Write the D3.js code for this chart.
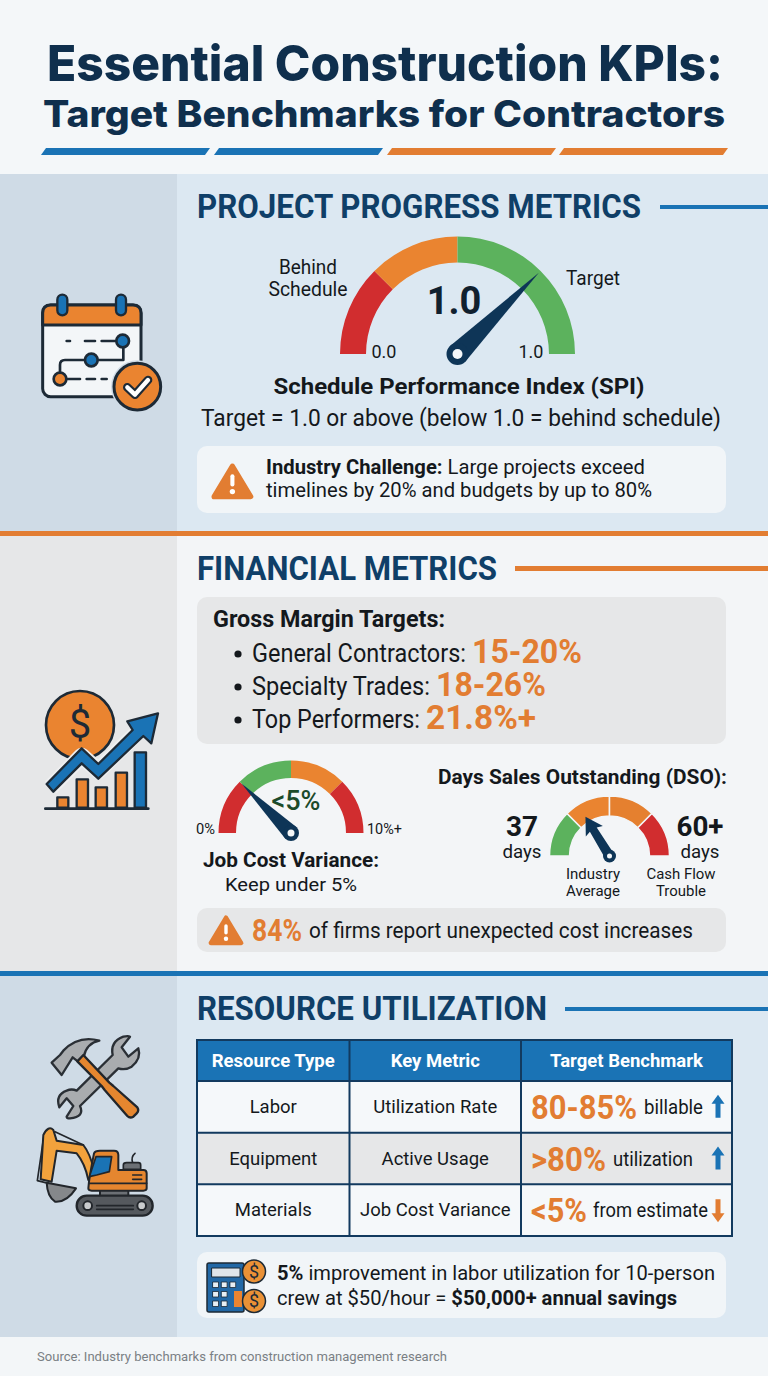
<!DOCTYPE html>
<html>
<head>
<meta charset="utf-8">
<script src="https://cdn.jsdelivr.net/npm/d3@7"></script>
<style>
  html, body { margin: 0; padding: 0; background: #f4f7f9; }
  svg { display: block; }
  text { font-family: Roboto, sans-serif; }
</style>
</head>
<body>
<div id="chart"></div>
<script>
// gauge data: arc stops are shares of the half circle
var spiStops = [0, 0.25, 0.5, 1];
var spiColors = ["#d12d2f", "#ea8430", "#5cb25d"];
var spiNeedle = 0.75;
var spiTicks = ["0.0", "1.0"];

var jcvStops = [0, 0.25, 0.5, 0.75, 1];
var jcvColors = ["#d12d2f", "#5cb25d", "#ea8430", "#d12d2f"];
var jcvNeedle = 0.25;
var jcvTicks = ["0%", "10%+"];

var dsoStops = [0, 0.25, 0.5, 0.75, 1];
var dsoColors = ["#5cb25d", "#ea8430", "#e5802f", "#d12d2f"];
var dsoNeedle = 0.325;

// gross margins
var marginLabels = ["General Contractors:", "Specialty Trades:", "Top Performers:"];
var marginValues = ["15-20%", "18-26%", "21.8%+"];

// table
var tableHeaders = ["Resource Type", "Key Metric", "Target Benchmark"];
var resourceTypes = ["Labor", "Equipment", "Materials"];
var keyMetrics = ["Utilization Rate", "Active Usage", "Job Cost Variance"];
var benchmarkValues = ["80-85%", ">80%", "<5%"];
var benchmarkNotes = ["billable", "utilization", "from estimate"];
var benchmarkDirs = ["up", "up", "down"];

var NAVY = "#0f2f4d", HEAD = "#0f3f68", BLUE = "#1a73b5", ORANGE = "#e27d32", INK = "#14181c", PANEL = "#f1f5f8";

var svg = d3.select("#chart").append("svg").attr("width", 768).attr("height", 1376);

function rect(x, y, w, h, fill, r) {
  return svg.append("rect").attr("x", x).attr("y", y).attr("width", w).attr("height", h)
    .attr("fill", fill).attr("rx", r || 0);
}

function txt(x, y, s, o) {
  o = o || {};
  var t = svg.append("text").attr("x", x).attr("y", y).text(s)
    .attr("font-size", o.size || 18)
    .attr("font-weight", o.weight || 400)
    .attr("fill", o.fill || INK)
    .attr("text-anchor", o.anchor || "start");
  if (o.family) t.style("font-family", o.family);
  if (o.len) t.attr("textLength", o.len).attr("lengthAdjust", "spacingAndGlyphs");
  return t;
}

// backgrounds
rect(0, 174, 768, 357, "#dce8f2");
rect(0, 174, 177, 357, "#cfdbe6");
rect(0, 531, 768, 440, "#f3f5f7");
rect(0, 531, 177, 440, "#e6e7e8");
rect(0, 531, 768, 5, ORANGE);
rect(0, 971, 768, 366, "#dce8f2");
rect(0, 971, 177, 366, "#cfdbe6");
rect(0, 971, 768, 5, BLUE);

// title
txt(385, 81, "Essential Construction KPIs:", { size: 49, weight: 800, fill: NAVY, anchor: "middle", family: "Inter", len: 676 });
txt(384, 127, "Target Benchmarks for Contractors", { size: 37, weight: 800, fill: NAVY, anchor: "middle", family: "Inter", len: 682 });

var stripe = d3.line();
[[41, BLUE], [214, BLUE], [387, ORANGE], [559, ORANGE]].forEach(function (d) {
  svg.append("path").attr("fill", d[1])
    .attr("d", stripe([[d[0] + 5, 148], [d[0] + 169, 148], [d[0] + 164, 155], [d[0], 155]]) + "Z");
});

// section headers
function sectionHead(label, y, textW, lineX, lineY, lineH, color) {
  txt(197, y, label, { size: 33, weight: 700, fill: HEAD, len: textW });
  rect(lineX, lineY, 768 - lineX, lineH, color);
}
sectionHead("PROJECT PROGRESS METRICS", 218, 444, 660, 205, 4, BLUE);
sectionHead("FINANCIAL METRICS", 580, 300, 515, 566, 5, ORANGE);
sectionHead("RESOURCE UTILIZATION", 1020, 350, 565, 1007, 4, BLUE);

// gauges go through one scale from share to angle
var angle = d3.scaleLinear().domain([0, 1]).range([-Math.PI / 2, Math.PI / 2]);

function drawArcs(cx, cy, r0, r1, stops, colors, gap) {
  var arc = d3.arc().innerRadius(r0).outerRadius(r1);
  var g = svg.append("g").attr("transform", "translate(" + cx + "," + cy + ")");
  g.selectAll("path").data(colors).join("path")
    .attr("fill", function (d) { return d; })
    .attr("stroke", gap ? "#f3f5f7" : "none")
    .attr("stroke-width", gap || 0)
    .attr("d", function (d, i) {
      return arc({ startAngle: angle(stops[i]), endAngle: angle(stops[i + 1]) });
    });
  return g;
}

function drawNeedle(g, share, len, hub, hole) {
  var a = angle(share) - Math.PI / 2; // svg angle from +x
  var px = Math.cos(a), py = Math.sin(a), nx = -py, ny = px;
  var p = [[px * len, py * len], [nx * hub, ny * hub], [-nx * hub, -ny * hub]];
  g.append("path").attr("fill", "#0e3557").attr("d", d3.line()(p) + "Z");
  g.append("circle").attr("r", hub).attr("fill", "#0e3557");
  g.append("circle").attr("r", hole).attr("fill", "#f4f7f9");
}

function drawArrowNeedle(g, share, len, hub, hole) {
  var a = angle(share) - Math.PI / 2;
  var px = Math.cos(a), py = Math.sin(a), nx = -py, ny = px;
  function at(along, side) { return [px * along + nx * side, py * along + ny * side]; }
  var p = [at(len, 0), at(len - 17, 10), at(len - 15, 4), at(0, 5), at(0, -5), at(len - 15, -4), at(len - 17, -10)];
  g.append("path").attr("fill", "#0e3557").attr("d", d3.line()(p) + "Z");
  g.append("circle").attr("r", hub).attr("fill", "#0e3557");
  g.append("circle").attr("r", hole).attr("fill", "#f4f7f9");
}

// SPI gauge
var spiG = drawArcs(457.5, 354, 91.5, 117.5, spiStops, spiColors);
drawNeedle(spiG, spiNeedle, 115, 11, 5);
txt(308, 274, "Behind", { size: 19.5, anchor: "middle", len: 58 });
txt(308, 296, "Schedule", { size: 19.5, anchor: "middle", len: 79 });
txt(593, 285, "Target", { size: 19.5, anchor: "middle", len: 54 });
txt(454, 314, "1.0", { size: 38, weight: 700, fill: "#10202f", anchor: "middle" });
txt(384, 358, spiTicks[0], { size: 18, anchor: "middle" });
txt(531, 358, spiTicks[1], { size: 18, anchor: "middle" });
txt(459, 394, "Schedule Performance Index (SPI)", { size: 22.5, weight: 700, anchor: "middle", len: 371 });
txt(461, 426, "Target = 1.0 or above (below 1.0 = behind schedule)", { size: 23, anchor: "middle", len: 520 });

function warning(x, y, s) {
  var g = svg.append("g").attr("transform", "translate(" + x + "," + y + ") scale(" + s + ")");
  g.append("path").attr("fill", ORANGE).attr("stroke", ORANGE).attr("stroke-width", 5).attr("stroke-linejoin", "round")
    .attr("d", "M20 3 L38 33 L2 33 Z");
  g.append("rect").attr("x", 18).attr("y", 11).attr("width", 4).attr("height", 12).attr("rx", 2).attr("fill", "#fff");
  g.append("circle").attr("cx", 20).attr("cy", 28).attr("r", 2.6).attr("fill", "#fff");
}

// first callout
rect(197, 446, 529, 67, PANEL, 10);
warning(212, 463, 1.02);
var c1 = txt(266, 474, "", { size: 19.5, len: 379 });
c1.append("tspan").attr("font-weight", 700).text("Industry Challenge:");
c1.append("tspan").text(" Large projects exceed");
txt(266, 497, "timelines by 20% and budgets by up to 80%", { size: 19.5, len: 386 });

// gross margin panel
rect(197, 597, 529, 147, "#e6e7e8", 10);
txt(213, 627, "Gross Margin Targets:", { size: 23, weight: 700, len: 232 });
var marginY = d3.scalePoint().domain(marginLabels).range([662, 728]);
var marginLabelW = { "General Contractors:": 214, "Specialty Trades:": 178, "Top Performers:": 168 };
marginLabels.forEach(function (d, i) {
  svg.append("circle").attr("cx", 238).attr("cy", marginY(d) - 8).attr("r", 3.6).attr("fill", INK);
  txt(252, marginY(d), d, { size: 25, len: marginLabelW[d] });
  txt(252 + marginLabelW[d] + 6, marginY(d) + 1, marginValues[i], { size: 34, weight: 700, fill: ORANGE, len: 110 });
});

// job cost variance gauge
var jcvG = drawArcs(291, 833, 55, 72.5, jcvStops, jcvColors);
drawNeedle(jcvG, jcvNeedle, 70, 8, 3.5);
txt(205.5, 834, jcvTicks[0], { size: 14, anchor: "middle", len: 19 });
txt(384.5, 834, jcvTicks[1], { size: 14, anchor: "middle", len: 35 });
txt(296, 810, "<5%", { size: 27, weight: 500, fill: "#1b4a2a", anchor: "middle" });
txt(291, 867, "Job Cost Variance:", { size: 21, weight: 700, anchor: "middle", len: 176 });
txt(291, 891, "Keep under 5%", { size: 19, anchor: "middle", len: 132 });

// DSO gauge
txt(582.5, 784, "Days Sales Outstanding (DSO):", { size: 21, weight: 700, anchor: "middle", len: 289 });
var dsoG = drawArcs(609.5, 856, 40, 60, dsoStops, dsoColors, 1.5);
drawArrowNeedle(dsoG, dsoNeedle, 46, 6.5, 2.5);
txt(522, 836, "37", { size: 28, weight: 700, anchor: "middle" });
txt(522, 858, "days", { size: 18, anchor: "middle", len: 39 });
txt(700, 836, "60+", { size: 28, weight: 700, anchor: "middle", len: 47 });
txt(700, 858, "days", { size: 18, anchor: "middle", len: 39 });
txt(593, 879, "Industry", { size: 15.5, anchor: "middle", len: 54 });
txt(593, 896, "Average", { size: 15.5, anchor: "middle", len: 54 });
txt(681, 879, "Cash Flow", { size: 15.5, anchor: "middle", len: 69 });
txt(681, 896, "Trouble", { size: 15.5, anchor: "middle", len: 50 });

// second callout
rect(197, 908, 529, 44, "#e6e7e8", 10);
warning(209, 915, 0.85);
txt(252, 941, "84%", { size: 31, weight: 700, fill: ORANGE, len: 50 });
txt(309, 938, "of firms report unexpected cost increases", { size: 21.5, len: 384 });

// table
var colEdges = [197, 349.5, 521, 732];
var rowBand = d3.scaleBand().domain(resourceTypes).range([1081, 1236]);
var rowFill = ["#f5f8fa", "#e6e7e8", "#f5f8fa"];
var valueW = [106, 75, 56], noteX = [644, 613, 593], noteW = [59, 80, 115];

rect(197, 1040, 535, 41, BLUE);
tableHeaders.forEach(function (d, i) {
  txt((colEdges[i] + colEdges[i + 1]) / 2, 1067, d, { size: 18.5, weight: 700, fill: "#fff", anchor: "middle" });
});

resourceTypes.forEach(function (d, i) {
  var y = rowBand(d), h = rowBand.bandwidth(), mid = y + h / 2;
  rect(197, y, 535, h, rowFill[i]);
  txt((colEdges[0] + colEdges[1]) / 2, mid + 6, d, { size: 18.5, anchor: "middle" });
  txt((colEdges[1] + colEdges[2]) / 2, mid + 6, keyMetrics[i], { size: 18.5, anchor: "middle" });

  txt(531, mid + 12, benchmarkValues[i], { size: 34, weight: 700, fill: ORANGE, len: valueW[i] });
  txt(noteX[i], mid + 7, benchmarkNotes[i], { size: 19.5, len: noteW[i] });

  // arrow
  var up = benchmarkDirs[i] === "up";
  var color = up ? BLUE : ORANGE;
  var ax = 718, t = up ? mid - 12 : mid + 12, s = up ? 1 : -1;
  svg.append("path").attr("fill", color)
    .attr("d", d3.line()([[ax, t], [ax + 6.5, t + 9 * s], [ax + 2.5, t + 9 * s], [ax + 2.5, t + 23 * s],
      [ax - 2.5, t + 23 * s], [ax - 2.5, t + 9 * s], [ax - 6.5, t + 9 * s]]) + "Z");
});

// table lines
var lines = svg.append("g").attr("stroke", "#123a5f").attr("stroke-width", 2).attr("fill", "none");
lines.append("rect").attr("x", 197).attr("y", 1040).attr("width", 535).attr("height", 196);
[1081, rowBand(resourceTypes[1]), rowBand(resourceTypes[2])].forEach(function (y) {
  lines.append("line").attr("x1", 197).attr("x2", 732).attr("y1", y).attr("y2", y);
});
[colEdges[1], colEdges[2]].forEach(function (x) {
  lines.append("line").attr("x1", x).attr("x2", x).attr("y1", 1040).attr("y2", 1236);
});

// savings callout
rect(197, 1252, 529, 66, PANEL, 10);
var s1 = txt(277, 1280, "", { size: 21, len: 438 });
s1.append("tspan").attr("font-weight", 700).text("5%");
s1.append("tspan").text(" improvement in labor utilization for 10-person");
var s2 = txt(277, 1305, "", { size: 21, len: 400 });
s2.append("tspan").text("crew at $50/hour = ");
s2.append("tspan").attr("font-weight", 700).text("$50,000+ annual savings");

// footer
rect(0, 1337, 768, 39, "#f3f6f8");
txt(37, 1361, "Source: Industry benchmarks from construction management research", { size: 13, fill: "#7a7f84", len: 410 });

// ---- icons, drawn at 3x in their own group ----
var LINE = "#1d2a36";
function iconGroup(x, y, k) {
  return svg.append("g").attr("transform", "translate(" + x + "," + y + ") scale(" + (k || 1 / 3) + ")")
    .attr("stroke-linejoin", "round").attr("stroke-linecap", "round");
}
function dollar(g, cx, cy, h, c) {
  return g.append("text").attr("x", cx).attr("y", cy + h * 0.36).attr("text-anchor", "middle")
    .attr("font-size", h).attr("fill", c || LINE).text("$");
}

// calendar
var cal = iconGroup(20, 280);
cal.append("rect").attr("x", 68).attr("y", 75).attr("width", 295).attr("height", 275).attr("rx", 24)
  .attr("fill", "#f3f6f8").attr("stroke", LINE).attr("stroke-width", 9);
cal.append("path").attr("d", "M68 135 V99 Q68 75 92 75 H339 Q363 75 363 99 V135 Z")
  .attr("fill", "#ea8430").attr("stroke", LINE).attr("stroke-width", 9);
[127, 303].forEach(function (x) {
  cal.append("rect").attr("x", x - 15).attr("y", 44).attr("width", 30).attr("height", 62).attr("rx", 15)
    .attr("fill", BLUE).attr("stroke", LINE).attr("stroke-width", 7);
});
cal.append("path").attr("fill", "none").attr("stroke", LINE).attr("stroke-width", 8)
  .attr("d", "M140 183 H150 M195 183 H225 M245 183 H310 V240 H135 Q120 240 120 255 V297 H180 M200 297 H225 M245 297 H260");
[[308, 183, BLUE], [214, 240, BLUE], [120, 297, "#ea8430"]].forEach(function (d) {
  cal.append("circle").attr("cx", d[0]).attr("cy", d[1]).attr("r", 19).attr("fill", d[2])
    .attr("stroke", LINE).attr("stroke-width", 8);
});
cal.append("circle").attr("cx", 352).attr("cy", 320).attr("r", 79).attr("fill", "#cfdbe6");
cal.append("circle").attr("cx", 352).attr("cy", 320).attr("r", 70).attr("fill", "#ea8430")
  .attr("stroke", LINE).attr("stroke-width", 9);
cal.append("path").attr("fill", "none").attr("stroke", LINE).attr("stroke-width", 26)
  .attr("d", "M322 322 L345 344 L384 300");
cal.append("path").attr("fill", "none").attr("stroke", "#fff").attr("stroke-width", 13)
  .attr("d", "M322 322 L345 344 L384 300");

// money growth
var mon = iconGroup(20, 680);
mon.append("circle").attr("cx", 180).attr("cy", 135).attr("r", 102).attr("fill", "#ea8430")
  .attr("stroke", LINE).attr("stroke-width", 8);
dollar(mon, 180, 130, 120);
[[112, 352, 33, 31], [170, 298, 34, 85], [227, 322, 34, 61], [287, 278, 34, 105]].forEach(function (d) {
  mon.append("rect").attr("x", d[0]).attr("y", d[1]).attr("width", d[2]).attr("height", d[3])
    .attr("fill", "#ea8430").attr("stroke", LINE).attr("stroke-width", 7);
});
mon.append("rect").attr("x", 344).attr("y", 217).attr("width", 34).attr("height", 166)
  .attr("fill", BLUE).attr("stroke", LINE).attr("stroke-width", 7);
mon.append("line").attr("x1", 76).attr("x2", 385).attr("y1", 386).attr("y2", 386)
  .attr("stroke", LINE).attr("stroke-width", 8);
mon.append("path").attr("fill", "none").attr("stroke", "#eeeff0").attr("stroke-width", 50)
  .attr("stroke-linecap", "butt").attr("d", "M92 322 L185 228 L235 272 L345 165");
mon.append("path").attr("fill", BLUE).attr("stroke", LINE).attr("stroke-width", 7)
  .attr("d", "M80 312 L185 205 L235 252 L338 150 L322 124 L414 100 L394 190 L370 168 L235 296 L185 250 L100 335 Z");

// hammer and wrench
var tools = iconGroup(20, 1020);
tools.append("path").attr("fill", "#a9acaf").attr("stroke", "#2a2f35").attr("stroke-width", 7)
  .attr("d", "M278 105 Q270 65 310 50 Q325 47 330 50 L305 82 L325 110 L355 85 Q365 115 335 140 Q315 152 295 145 L180 258 Q195 290 150 295 Q140 295 140 290 L160 258 L140 235 L118 262 Q105 225 140 212 Q155 205 170 212 Z");
tools.append("path").attr("fill", "#a9acaf").attr("stroke", "#2a2f35").attr("stroke-width", 7)
  .attr("d", "M95 128 L120 105 L130 92 Q175 45 238 62 Q200 70 192 108 L178 128 L158 112 L125 165 Z");
tools.append("path").attr("fill", "#e5862f").attr("stroke", "#22262b").attr("stroke-width", 7)
  .attr("d", "M172 124 L190 105 L268 188 L280 198 L352 262 Q358 272 350 280 L340 290 Q330 296 322 288 L254 210 L245 198 Z");

// excavator
var ex = iconGroup(20, 1020);
ex.append("rect").attr("x", 240).attr("y", 508).attr("width", 85).attr("height", 22)
  .attr("fill", "#6c7075").attr("stroke", "#22262b").attr("stroke-width", 6);
ex.append("rect").attr("x", 170).attr("y", 527).attr("width", 228).attr("height", 60).attr("rx", 30)
  .attr("fill", "#55595e").attr("stroke", "#22262b").attr("stroke-width", 7);
[203, 365].forEach(function (x) {
  ex.append("circle").attr("cx", x).attr("cy", 557).attr("r", 13).attr("fill", "#c9cbcd")
    .attr("stroke", "#22262b").attr("stroke-width", 6);
});
ex.append("path").attr("fill", "none").attr("stroke", "#22262b").attr("stroke-width", 5)
  .attr("d", "M230 557 H340 M230 568 H340");
ex.append("path").attr("fill", "none").attr("stroke", "#22262b").attr("stroke-width", 5)
  .attr("d", "M105 335 L190 375 M72 345 L52 482 L85 490 M345 400 Q332 410 338 430");
ex.append("path").attr("fill", "#f2a23c").attr("stroke", "#22262b").attr("stroke-width", 6)
  .attr("d", "M70 345 Q85 315 100 330 L110 362 L190 375 Q210 400 222 450 L205 480 Q195 430 170 400 L110 392 L95 485 L62 478 Z");
ex.append("path").attr("fill", "#85888b").attr("stroke", "#22262b").attr("stroke-width", 6)
  .attr("d", "M80 488 L168 505 Q140 548 105 545 Q82 530 80 488 Z");
ex.append("path").attr("fill", "#e5862f").attr("stroke", "#22262b").attr("stroke-width", 6)
  .attr("d", "M207 485 Q212 450 222 400 Q225 392 240 392 H282 Q295 392 295 405 V450 H370 Q380 450 380 460 V505 Q380 512 370 512 H215 Q205 512 205 505 Z");
ex.append("path").attr("fill", BLUE).attr("stroke", "#22262b").attr("stroke-width", 5)
  .attr("d", "M208 470 L228 410 H275 L268 455 L230 465 Z");
ex.append("path").attr("fill", "#6c7075").attr("stroke", "#22262b").attr("stroke-width", 5)
  .attr("d", "M310 448 V435 Q310 428 320 428 H355 Q362 428 362 435 V448 Z");
ex.append("path").attr("fill", "none").attr("stroke", "#22262b").attr("stroke-width", 5)
  .attr("d", "M338 465 H365 M338 478 H365 M207 490 H380");

// calculator with coins
var calc = iconGroup(207, 1258, 1);
calc.append("rect").attr("x", 0).attr("y", 5).attr("width", 37).attr("height", 49).attr("rx", 2)
  .attr("fill", "#2268a6").attr("stroke", LINE).attr("stroke-width", 1.5);
calc.append("rect").attr("x", 5).attr("y", 10).attr("width", 28).attr("height", 9).attr("fill", "#dfe5ea")
  .attr("stroke", LINE).attr("stroke-width", 1);
[0, 1, 2].forEach(function (row) {
  [0, 1, 2].forEach(function (col) {
    if (row > 0 && col === 2) return;
    calc.append("rect").attr("x", 6 + col * 8.6).attr("y", 24 + row * 9.5).attr("width", 5.5).attr("height", 5.5)
      .attr("fill", "#e8eef3").attr("stroke", LINE).attr("stroke-width", 0.8);
  });
});
calc.append("rect").attr("x", 27).attr("y", 33).attr("width", 8).attr("height", 16).attr("fill", "#ea8430");
[[47, 13.5], [47, 43]].forEach(function (d) {
  calc.append("circle").attr("cx", d[0]).attr("cy", d[1]).attr("r", 11.5).attr("fill", "#ea9136")
    .attr("stroke", LINE).attr("stroke-width", 1.5);
  dollar(calc, d[0], d[1], 18);
});
</script>
</body>
</html>
